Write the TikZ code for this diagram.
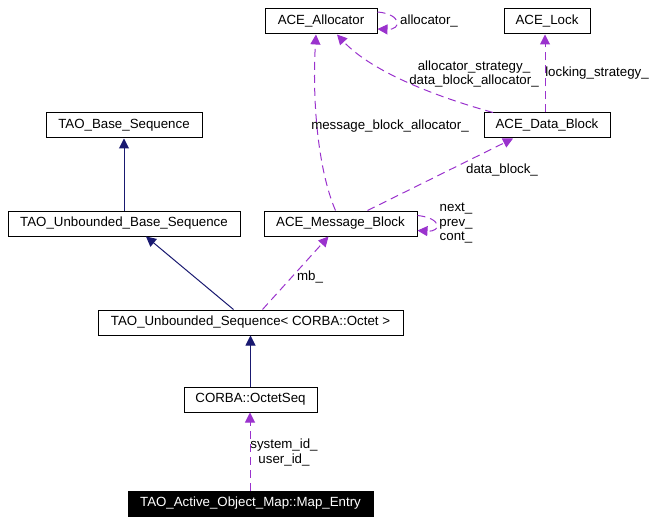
\documentclass[tikz,border=0pt]{standalone}
\usepackage{fontspec}
\setmainfont{Liberation Sans}
\usetikzlibrary{arrows.meta}
\definecolor{inhcol}{HTML}{191970}
\definecolor{usecol}{HTML}{9A32CD}
\begin{document}
\begin{tikzpicture}[x=1pt,y=-1pt,font=\fontsize{13.3}{14.5}\selectfont,
  cls/.style={draw=black,line width=1pt,minimum height=25pt,inner sep=0pt,anchor=center},
  inh/.style={inhcol,line width=1pt,-{Triangle[length=10pt,width=10pt]}},
  use/.style={usecol,line width=1pt,dash pattern=on 8pt off 5pt,-{Triangle[length=10pt,width=10pt]}},
  lbl/.style={inner sep=0pt,align=center,text=black}]
\useasboundingbox (0,0) rectangle (659,524);
\node[cls,minimum width=112pt] (alloc) at (321,21.5) {ACE\_Allocator};
\node[cls,minimum width=86pt] (lock) at (547,21.5) {ACE\_Lock};
\node[cls,minimum width=156pt] (bs) at (124,125.5) {TAO\_Base\_Sequence};
\node[cls,minimum width=126pt] (db) at (547,125.5) {ACE\_Data\_Block};
\node[cls,minimum width=232pt] (ubs) at (124,223.5) {TAO\_Unbounded\_Base\_Sequence};
\node[cls,minimum width=153pt] (mb) at (340.5,223.5) {ACE\_Message\_Block};
\node[cls,minimum width=305pt] (us) at (250.5,322.5) {TAO\_Unbounded\_Sequence< CORBA::Octet >};
\node[cls,minimum width=133pt] (os) at (250.5,399.5) {CORBA::OctetSeq};
\node[cls,minimum width=245pt,fill=black,text=white] (me) at (250.5,503.5) {TAO\_Active\_Object\_Map::Map\_Entry};
% inheritance
\draw[inh] (ubs.north) -- (bs.south);
\draw[inh] ([xshift=-17pt]us.north) -- ([xshift=22pt]ubs.south);
\draw[inh] (os.north) -- (us.south);
% usage
\draw[use] ([xshift=-0.5pt]me.north) -- ([xshift=-0.5pt]os.south);
\draw[use] ([xshift=12pt]us.north) -- ([xshift=-12pt]mb.south);
\draw[use] ([xshift=-5pt]mb.north) .. controls (318,170) and (312,100) .. ([xshift=-5pt]alloc.south);
\draw[use] ([xshift=27pt]mb.north) -- ([xshift=-34pt]db.south);
\draw[use] ([xshift=-54pt]db.north) .. controls (430,95) and (370,70) .. ([xshift=16pt]alloc.south);
\draw[use] ([xshift=-2pt]db.north) -- ([xshift=-2pt]lock.south);
\draw[use] ([yshift=9.5pt]alloc.east) .. controls (402,14) and (402,30) .. ([yshift=-7.5pt]alloc.east);
\draw[use] ([yshift=8pt]mb.east) .. controls (442,218) and (442,232) .. ([yshift=-7pt]mb.east);
% labels
\node[lbl] (l1) at (429,21.5) {allocator\_};
\node[lbl] (l2) at (474,74) {allocator\_strategy\_\\data\_block\_allocator\_};
\node[lbl] (l3) at (597,73) {locking\_strategy\_};
\node[lbl] (l4) at (390,126) {message\_block\_allocator\_};
\node[lbl] (l5) at (502,170) {data\_block\_};
\node[lbl] (l6) at (310,277) {mb\_};
\node[lbl] (l7) at (456,223.5) {next\_\\prev\_\\cont\_};
\node[lbl] (l8) at (284,452.5) {system\_id\_\\user\_id\_};
\end{tikzpicture}
\end{document}
